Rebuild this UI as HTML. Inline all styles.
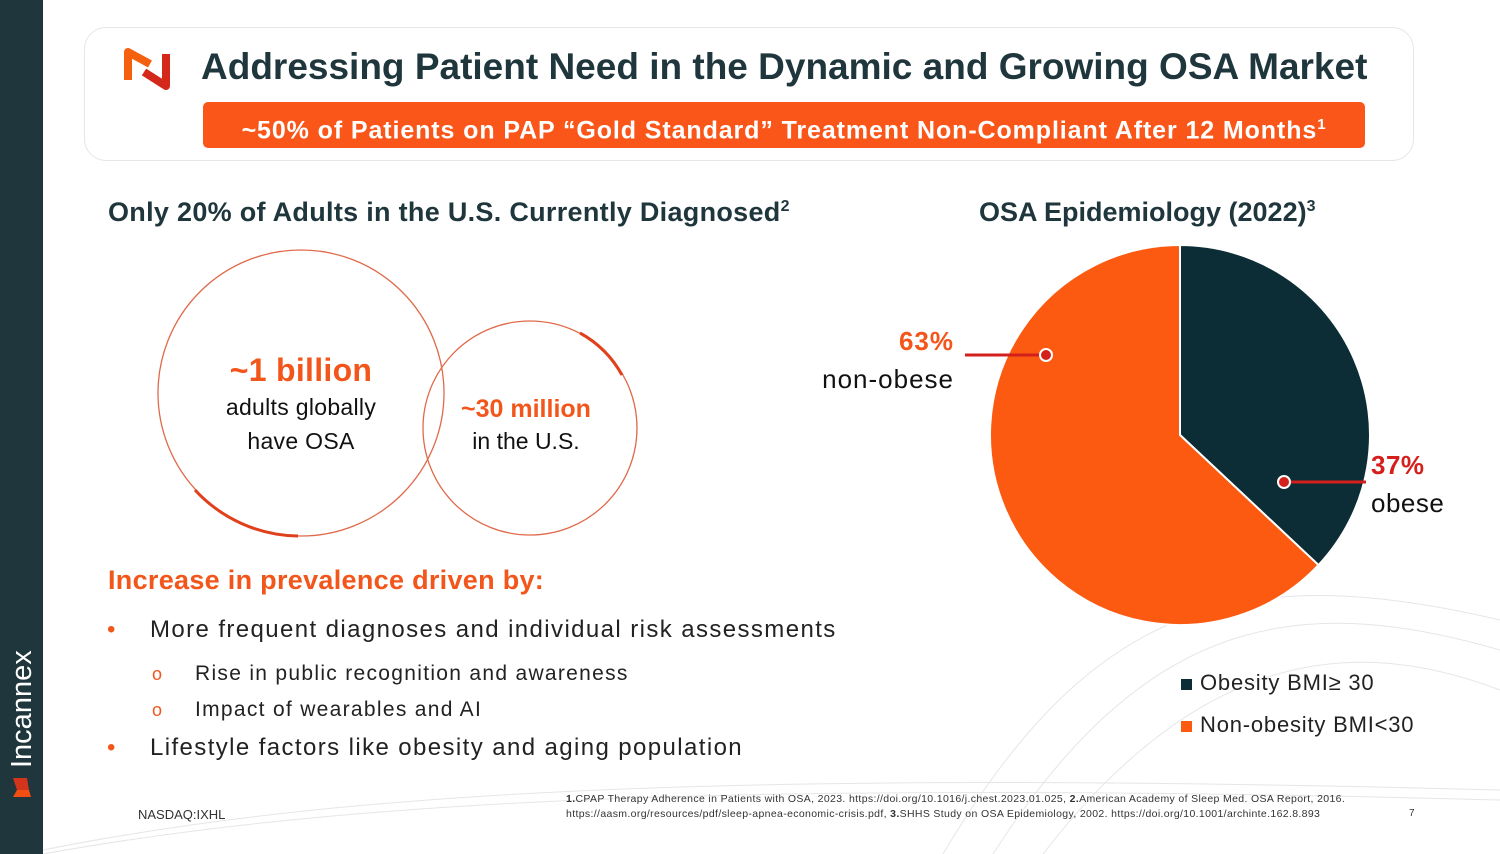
<!DOCTYPE html>
<html><head><meta charset="utf-8"><style>
*{margin:0;padding:0;box-sizing:border-box}
body{width:1500px;height:854px;overflow:hidden;background:#fff;font-family:"Liberation Sans",sans-serif;position:relative;color:#111}
.abs{position:absolute}
</style></head><body>
<div class="abs" style="left:0;top:0;width:43px;height:854px;background:#1f363c"></div>
<div class="abs" style="left:6px;top:800px;transform-origin:0 0;transform:rotate(-90deg);width:180px;height:32px;display:flex;align-items:center;gap:6px">
  <svg width="26" height="26" viewBox="0 0 26 26"><path d="M3 4 L10 8 L10 20 L3 22Z" fill="#f04e12"/><path d="M10 8 L22 4 L22 18 L10 20Z" fill="#d3341c"/></svg>
  <span style="color:#fff;font-size:29px;letter-spacing:0px">Incannex</span>
</div>
<svg class="abs" style="left:43px;top:0" width="1457" height="854">
  <g fill="none" stroke="#e6e6e6" stroke-width="1">
    <path d="M0 854 C300 800 700 780 1457 800"/><path d="M0 850 C300 790 700 770 1457 790"/>
    <path d="M900 854 C1050 600 1200 560 1457 620"/><path d="M950 854 C1100 620 1250 590 1457 650"/>
    <path d="M1000 854 C1150 660 1300 630 1457 690"/>
  </g>
</svg>
<div class="abs" style="left:84px;top:27px;width:1330px;height:134px;border:1px solid #e6e6e6;border-radius:22px;background:#fff"></div>
<svg class="abs" style="left:122px;top:44px" width="54" height="50" viewBox="0 0 54 50">
  <path d="M6 36 L6 8 L28 20" fill="none" stroke="#f5600f" stroke-width="8" stroke-linejoin="round"/>
  <path d="M22 28 L44 42 L44 10" fill="none" stroke="#d3281a" stroke-width="8" stroke-linejoin="round"/>
</svg>
<div class="abs" style="left:201px;top:46px;font-size:37px;font-weight:bold;color:#1f363c;white-space:nowrap">Addressing Patient Need in the Dynamic and Growing OSA Market</div>
<div class="abs" style="left:203px;top:102px;width:1162px;height:46px;background:#fb561a;border-radius:5px;color:#fff;font-size:25px;font-weight:bold;text-align:center;line-height:46px;letter-spacing:0.9px;white-space:nowrap">~50% of Patients on PAP “Gold Standard” Treatment Non-Compliant After 12 Months<sup style="font-size:15px">1</sup></div>
<div class="abs" style="left:108px;top:197px;font-size:27px;font-weight:bold;color:#1f363c;white-space:nowrap;letter-spacing:0.3px">Only 20% of Adults in the U.S. Currently Diagnosed<sup style="font-size:16px">2</sup></div>
<div class="abs" style="left:979px;top:197px;font-size:27px;font-weight:bold;color:#1f363c;white-space:nowrap">OSA Epidemiology (2022)<sup style="font-size:16px">3</sup></div>
<svg class="abs" style="left:150px;top:240px" width="500" height="310">
  <circle cx="151" cy="153" r="143" fill="none" stroke="#e06a4a" stroke-width="1.3"/>
  <circle cx="380" cy="188" r="107" fill="none" stroke="#e06a4a" stroke-width="1.3"/>
  <path d="M45 250 A143 143 0 0 0 148 296" fill="none" stroke="#e0401c" stroke-width="3"/>
  <path d="M430 93 A107 107 0 0 1 472 135" fill="none" stroke="#e0401c" stroke-width="3"/>
</svg>
<div class="abs" style="left:181px;top:350px;width:240px;text-align:center;font-size:23px;line-height:34px;letter-spacing:0.3px"><div style="color:#f2561b;font-weight:bold;font-size:32px;line-height:40px">~1 billion</div>adults globally<br>have OSA</div>
<div class="abs" style="left:436px;top:394px;width:180px;text-align:center;font-size:23px;line-height:34px"><div style="color:#f2561b;font-weight:bold;font-size:25px;line-height:30px">~30 million</div>in the U.S.</div>
<div class="abs" style="left:108px;top:565px;font-size:27px;font-weight:bold;color:#f2561b;letter-spacing:0.3px">Increase in prevalence driven by:</div>
<div class="abs" style="left:107px;top:612px;font-size:24px;color:#222;line-height:36px;white-space:nowrap">
  <div style="position:relative;padding-left:43px;letter-spacing:1.4px"><span style="position:absolute;left:0;color:#f2561b">•</span>More frequent diagnoses and individual risk assessments</div>
  <div style="position:relative;padding-left:88px;font-size:21px;margin-top:8px;letter-spacing:1.3px"><span style="position:absolute;left:45px;color:#f2561b;font-size:18px">o</span>Rise in public recognition and awareness</div>
  <div style="position:relative;padding-left:88px;font-size:21px;line-height:36px;letter-spacing:1.3px"><span style="position:absolute;left:45px;color:#f2561b;font-size:18px">o</span>Impact of wearables and AI</div>
  <div style="position:relative;padding-left:43px;margin-top:2px;letter-spacing:1.4px"><span style="position:absolute;left:0;color:#f2561b">•</span>Lifestyle factors like obesity and aging population</div>
</div>
<svg class="abs" id="pie" style="left:0;top:0" width="1500" height="854"></svg>
<div class="abs" style="left:780px;top:322px;width:174px;text-align:right;font-size:26px;line-height:38px;letter-spacing:1px"><div style="color:#f2561b;font-weight:bold">63%</div>non-obese</div>
<div class="abs" style="left:1371px;top:446px;font-size:26px;line-height:38px;letter-spacing:0.5px"><div style="color:#d3201c;font-weight:bold">37%</div>obese</div>
<div class="abs" style="left:1181px;top:662px;font-size:22px;color:#222;line-height:42px;letter-spacing:0.8px;white-space:nowrap">
  <div><span style="display:inline-block;width:11px;height:11px;background:#0c2d35;margin-right:8px"></span>Obesity BMI≥ 30</div>
  <div><span style="display:inline-block;width:11px;height:11px;background:#fb5a10;margin-right:8px"></span>Non-obesity BMI&lt;30</div>
</div>
<div class="abs" style="left:138px;top:807px;font-size:13px;color:#333">NASDAQ:IXHL</div>
<div class="abs" style="left:566px;top:792px;font-size:10.5px;color:#333;line-height:15px;white-space:nowrap;letter-spacing:0.35px"><b>1.</b>CPAP Therapy Adherence in Patients with OSA, 2023. https://doi.org/10.1016/j.chest.2023.01.025, <b>2.</b>American Academy of Sleep Med. OSA Report, 2016.<br>https://aasm.org/resources/pdf/sleep-apnea-economic-crisis.pdf, <b>3.</b>SHHS Study on OSA Epidemiology, 2002. https://doi.org/10.1001/archinte.162.8.893</div>
<div class="abs" style="left:1409px;top:808px;font-size:10px;color:#333">7</div>
<script>
const categories=["obese","non-obese"];
const values=[37,63];
const colors=["#0c2d35","#fb5a10"];
const NS="http://www.w3.org/2000/svg";
const svg=document.getElementById('pie');
const cx=1180,cy=435,r=190;
const total=values.reduce((a,b)=>a+b,0);
function pt(frac,rad){const a=frac*2*Math.PI;return [cx+rad*Math.sin(a),cy-rad*Math.cos(a)];}
let acc=0;
values.forEach((v,i)=>{
  const s=acc/total,e=(acc+v)/total;acc+=v;
  const [x1,y1]=pt(s,r),[x2,y2]=pt(e,r);
  const large=(e-s)>0.5?1:0;
  const p=document.createElementNS(NS,'path');
  p.setAttribute('d',`M${cx} ${cy} L${x1} ${y1} A${r} ${r} 0 ${large} 1 ${x2} ${y2}Z`);
  p.setAttribute('fill',colors[i]);p.setAttribute('stroke','#fff');p.setAttribute('stroke-width','2');
  
  
  svg.appendChild(p);
});
function leader(x1,y1,x2,y2,name){
  const l=document.createElementNS(NS,'line');
  l.setAttribute('x1',x1);l.setAttribute('y1',y1);l.setAttribute('x2',x2);l.setAttribute('y2',y2);
  l.setAttribute('stroke','#d3201c');l.setAttribute('stroke-width','3');
  
  
  svg.appendChild(l);
  const c=document.createElementNS(NS,'circle');
  c.setAttribute('cx',x2);c.setAttribute('cy',y2);c.setAttribute('r','6');
  c.setAttribute('fill','#d3201c');c.setAttribute('stroke','#fff');c.setAttribute('stroke-width','2');
  
  
  svg.appendChild(c);
}
leader(965,355,1046,355,'non-obese');
leader(1366,482,1284,482,'obese');
</script>
</body></html>
